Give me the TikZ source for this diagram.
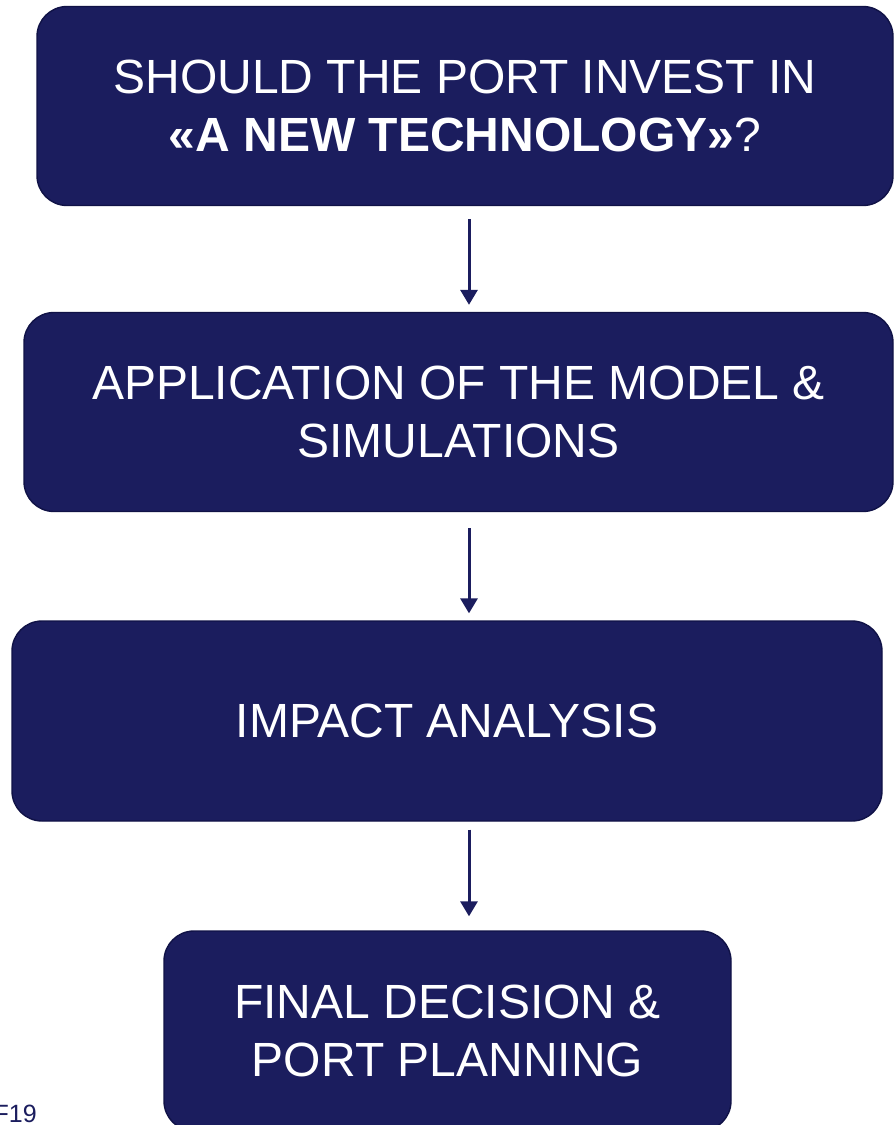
\documentclass[tikz,border=0pt]{standalone}
\usepackage{fontspec}
\setmainfont{Liberation Sans}
\usetikzlibrary{arrows.meta}
\definecolor{navy}{RGB}{27,29,94}
\definecolor{navyedge}{RGB}{16,18,70}
\begin{document}
\begin{tikzpicture}[x=1pt,y=-1pt,
  stagebox/.style={draw=navyedge,line width=1.4pt,fill=navy,rounded corners=30pt,
    text=white,align=center,inner sep=0pt,
    font=\fontsize{48}{57.5}\selectfont},
  flow/.style={draw=navy,line width=3pt,-{Triangle[width=17pt,length=15pt]}}]
\useasboundingbox (0,0) rectangle (894,1125);
\clip (0,0) rectangle (894,1125);
\fill[white] (0,0) rectangle (894,1125);

\node[stagebox,minimum width=856pt,minimum height=199pt] (q) at (465,106)
  {SHOULD THE PORT INVEST IN\\\textbf{«A NEW TECHNOLOGY»}?};
\node[stagebox,minimum width=869pt,minimum height=199pt] (m) at (458.5,412)
  {APPLICATION OF THE MODEL \&\\SIMULATIONS};
\node[stagebox,minimum width=870pt,minimum height=200pt] (i) at (447,721)
  {IMPACT ANALYSIS};
\node[stagebox,minimum width=567pt,minimum height=200pt] (f) at (447.5,1031)
  {FINAL DECISION \&\\PORT PLANNING};

\node[anchor=base east,text=navy,font=\fontsize{25}{30}\selectfont,inner sep=0pt] (ref) at (37,1122) {F19};

\draw[flow,shorten <=13pt,shorten >=7pt] (q.south -| 469,0) -- (m.north -| 469,0);
\draw[flow,shorten <=16pt,shorten >=7pt] (m.south -| 469,0) -- (i.north -| 469,0);
\draw[flow,shorten <=8pt,shorten >=14pt] (i.south -| 469,0) -- (f.north -| 469,0);
\end{tikzpicture}
\end{document}
